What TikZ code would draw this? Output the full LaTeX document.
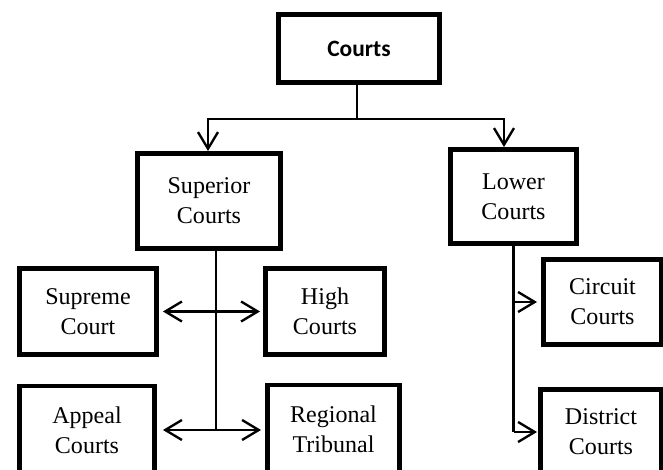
\documentclass[tikz,border=0pt]{standalone}
\usepackage{fontspec}
\setmainfont{Liberation Serif}
\newfontfamily\headfont{Carlito}
\usetikzlibrary{arrows.meta}
\begin{document}
\begin{tikzpicture}[x=0.03cm, y=-0.03cm,
  >={Straight Barb[length=5mm, width=6mm]},
  box/.style={draw, line width=4.2pt, inner sep=0pt, align=center,
    font=\fontsize{20.5}{25.5}\selectfont},
  link/.style={line width=2pt}]
\clip (0,0) rectangle (663,469);
% Courts
\node[box, minimum width=4.83cm, minimum height=2.04cm, font=\headfont\bfseries\fontsize{20}{24}\selectfont] (courts) at (359,48.5) {Courts};
% Superior and Lower
\node[box, minimum width=4.29cm, minimum height=2.85cm] (superior) at (209,201) {Superior\\Courts};
\node[box, minimum width=3.78cm, minimum height=2.82cm] (lower) at (513.5,196.5) {Lower\\Courts};
% Superior branches
\node[box, minimum width=4.11cm, minimum height=2.58cm] (supreme) at (88,311.5) {Supreme\\Court};
\node[box, minimum width=3.57cm, minimum height=2.58cm] (high) at (325,311.5) {High\\Courts};
\node[box, minimum width=4.05cm, minimum height=2.64cm] (appeal) at (87,430) {Appeal\\Courts};
\node[box, minimum width=3.96cm, minimum height=2.64cm] (regional) at (333.5,429) {Regional\\Tribunal};
% Lower branches
\node[box, minimum width=3.54cm, minimum height=2.55cm] (circuit) at (602.5,302) {Circuit\\Courts};
\node[box, minimum width=3.63cm, minimum height=2.55cm] (district) at (601,432) {District\\Courts};
% Top split
\coordinate (split) at ([xshift=-0.06cm]courts.south |- 0,119);
\draw[link] ([xshift=-0.06cm]courts.south) -- (split);
\draw[link, ->] (split) -| ([xshift=-0.03cm]superior.north);
\draw[link, ->] (split) -| ([xshift=-0.285cm]lower.north);
% Superior spine
\coordinate (sbot) at ([xshift=0.21cm]superior.south |- 0,430);
\draw[link] ([xshift=0.21cm]superior.south) -- (sbot);
\draw[link, <->] ([xshift=0.12cm]supreme.east) -- ([xshift=-0.09cm]high.west);
\draw[link, <->] ([xshift=0.18cm]appeal.east |- sbot) -- ([xshift=-0.12cm]regional.west |- sbot);
% Lower spine
\coordinate (lbot) at (lower.south |- 0,432);
\draw[link] (lower.south) -- (lbot);
\draw[link, ->] (lower.south |- circuit.west) -- ([xshift=-0.12cm]circuit.west);
\draw[link, ->] (lbot) -- ([xshift=-0.03cm]district.west |- lbot);
\end{tikzpicture}
\end{document}
